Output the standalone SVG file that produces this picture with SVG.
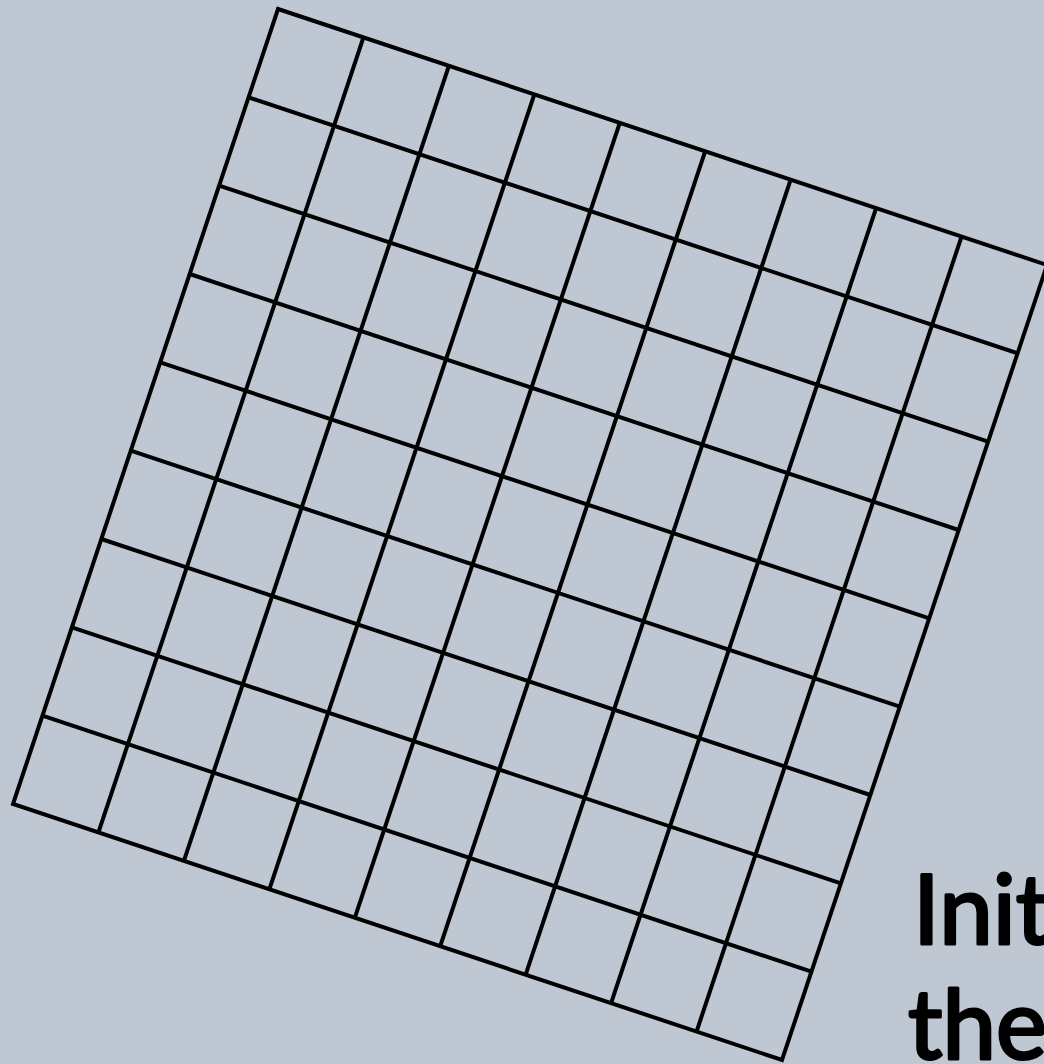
<svg xmlns="http://www.w3.org/2000/svg" width="1044" height="1064" viewBox="0 0 1044 1064">
  <style>
    .grid { fill: none; stroke: #000; stroke-width: 4; stroke-linejoin: miter; stroke-linecap: butt; }
    .label { font-family: Lato, "Open Sans", "Liberation Sans", sans-serif; font-weight: normal; font-size: 96px; fill: #000; stroke: #000; stroke-width: 3; stroke-linejoin: round; }
  </style>
  <rect x="0" y="0" width="1044" height="1064" fill="#bec7d2"/>
  <g id="grid">
    <polygon class="grid" points="278,9 1047,265 782,1060 13,804"/>
    <path class="grid" d="
      M363.44,37.44 L98.44,832.44
      M448.89,65.89 L183.89,860.89
      M534.33,94.33 L269.33,889.33
      M619.78,122.78 L354.78,917.78
      M705.22,151.22 L440.22,946.22
      M790.67,179.67 L525.67,974.67
      M876.11,208.11 L611.11,1003.11
      M961.56,236.56 L696.56,1031.56
      M248.56,97.33 L1017.56,353.33
      M219.11,185.67 L988.11,441.67
      M189.67,274 L958.67,530
      M160.22,362.33 L929.22,618.33
      M130.78,450.67 L899.78,706.67
      M101.33,539 L870.33,795
      M71.89,627.33 L840.89,883.33
      M42.44,715.67 L811.44,971.67"/>
  </g>
  <g id="caption">
    <text class="label" x="913" y="944">Init</text>
    <text class="label" x="908" y="1059">the</text>
  </g>
</svg>
